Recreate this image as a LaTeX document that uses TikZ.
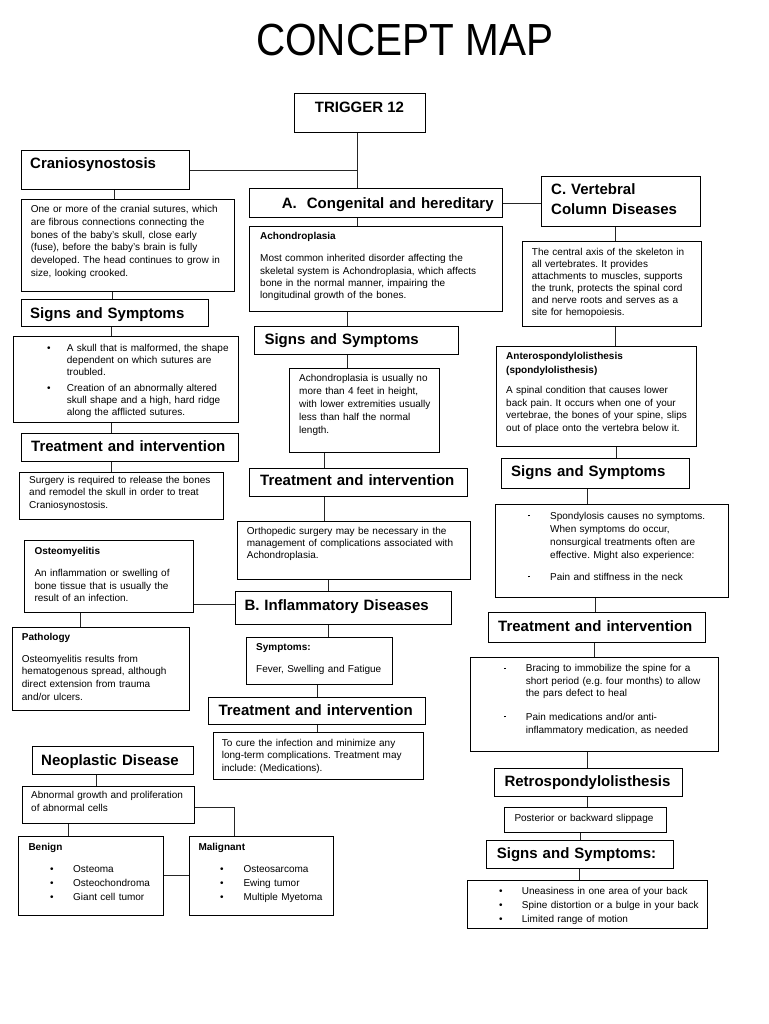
\documentclass[tikz,border=0pt]{standalone}
\usepackage{fontspec}
\usepackage{graphicx}
\setmainfont{Liberation Sans}
\frenchspacing
\newcommand\mybox[5]{\node[box, minimum width={(#4-#2)*1pt}, minimum height={(#5-#3)*1pt}] (#1) at (#2,#3) {};}
\tikzset{
  box/.style={draw=black, line width=0.9pt, inner sep=0pt, anchor=north west},
  conn/.style={draw=black!85, line width=0.8pt},
  hd/.style={anchor=base west, inner sep=0pt, text width=260pt, align=left, font=\bfseries\fontsize{15}{19.3}\selectfont},
  sb/.style={anchor=base west, inner sep=0pt, text width=220pt, align=left, font=\bfseries\fontsize{10}{14}\selectfont},
  tx/.style={anchor=base west, inner sep=0pt, text width=260pt, align=left, font=\fontsize{10}{12.5}\selectfont},
  bul/.style={anchor=base west, inner sep=0pt, font=\fontsize{10}{12.5}\selectfont},
}
\newcommand\sq{\rule[2.6pt]{1.6pt}{1.6pt}}
\begin{document}
\frenchspacing
\begin{tikzpicture}[x=1pt,y=-1pt]
\useasboundingbox (0,0) rectangle (768,1024);
\fill[white] (0,0) rectangle (768,1024);

% title
\node[anchor=base, inner sep=0pt] (title) at (404.7,56) {\fontsize{45}{50}\selectfont\scalebox{0.9}[1]{CONCEPT MAP}};

% boxes
\mybox{trig}{294}{93}{425}{132}
\mybox{cran}{21}{150}{189}{189}
\mybox{crand}{21}{199}{234}{291}
\mybox{css}{21}{299}{208}{326}
\mybox{cssd}{13}{336}{238}{422}
\mybox{ctr}{21}{433}{238}{461}
\mybox{ctrd}{19}{472}{223}{519}
\mybox{osteo}{24}{540}{193}{612}
\mybox{path}{12}{627}{189}{710}
\mybox{A}{249}{188}{502}{217}
\mybox{ach}{249}{226}{502}{311}
\mybox{ass}{254}{326}{458}{354}
\mybox{assd}{289}{368}{439}{452}
\mybox{atr}{249}{468}{467}{496}
\mybox{atrd}{237}{521}{470}{579}
\mybox{B}{235}{591}{451}{624}
\mybox{bsym}{246}{637}{392}{684}
\mybox{btr}{208}{697}{425}{724}
\mybox{btrd}{213}{732}{423}{779}
\mybox{neo}{32}{746}{193}{774}
\mybox{abn}{22}{786}{194}{823}
\mybox{ben}{18}{836}{163}{915}
\mybox{mal}{189}{836}{333}{915}
\mybox{C}{541}{176}{700}{226}
\mybox{cd}{522}{241}{701}{326}
\mybox{ant}{496}{346}{696}{446}
\mybox{rss}{501}{458}{689}{488}
\mybox{rssd}{495}{504}{728}{597}
\mybox{rtr}{488}{612}{705}{642}
\mybox{rtrd}{470}{657}{718}{751}
\mybox{retro}{494}{768}{682}{796}
\mybox{post}{504}{807}{666}{832}
\mybox{rsstwo}{486}{840}{673}{868}
\mybox{rlist}{467}{880}{707}{928}

% connectors
\coordinate (j) at (357,170);
\draw[conn] (j |- trig.south) -- (j |- A.north);
\draw[conn] (cran.east) -- (cran.east -| j);
\draw[conn] (A.east) -- (A.east -| C.west);
\draw[conn] (114,0 |- cran.south) -- (114,0 |- crand.north);
\draw[conn] (112,0 |- crand.south) -- (112,0 |- css.north);
\draw[conn] (111,0 |- css.south) -- (111,0 |- cssd.north);
\draw[conn] (111,0 |- cssd.south) -- (111,0 |- ctr.north);
\draw[conn] (111,0 |- ctr.south) -- (111,0 |- ctrd.north);
\draw[conn] (80,0 |- osteo.south) -- (80,0 |- path.north);
\draw[conn] (osteo.east |- 0,604) -- (B.west |- 0,604);
\draw[conn] (357,0 |- A.south) -- (357,0 |- ach.north);
\draw[conn] (347,0 |- ach.south) -- (347,0 |- ass.north);
\draw[conn] (347,0 |- ass.south) -- (347,0 |- assd.north);
\draw[conn] (324,0 |- assd.south) -- (324,0 |- atr.north);
\draw[conn] (324,0 |- atr.south) -- (324,0 |- atrd.north);
\draw[conn] (328,0 |- atrd.south) -- (328,0 |- B.north);
\draw[conn] (328,0 |- B.south) -- (328,0 |- bsym.north);
\draw[conn] (317,0 |- bsym.south) -- (317,0 |- btr.north);
\draw[conn] (317,0 |- btr.south) -- (317,0 |- btrd.north);
\draw[conn] (96,0 |- neo.south) -- (96,0 |- abn.north);
\draw[conn] (68,0 |- abn.south) -- (68,0 |- ben.north);
\draw[conn] (abn.east |- 0,807) -| (234,0 |- mal.north);
\draw[conn] (ben.east |- 0,875) -- (mal.west |- 0,875);
\draw[conn] (615,0 |- C.south) -- (615,0 |- cd.north);
\draw[conn] (615,0 |- cd.south) -- (615,0 |- ant.north);
\draw[conn] (616,0 |- ant.south) -- (616,0 |- rss.north);
\draw[conn] (587,0 |- rss.south) -- (587,0 |- rssd.north);
\draw[conn] (595,0 |- rssd.south) -- (595,0 |- rtr.north);
\draw[conn] (594,0 |- rtr.south) -- (594,0 |- rtrd.north);
\draw[conn] (587,0 |- rtrd.south) -- (587,0 |- retro.north);
\draw[conn] (587,0 |- retro.south) -- (587,0 |- post.north);
\draw[conn] (580,0 |- post.south) -- (580,0 |- rsstwo.north);
\draw[conn] (579,0 |- rsstwo.south) -- (579,0 |- rlist.north);

% headings
\node[anchor=base, inner sep=0pt, font=\bfseries\fontsize{15}{19.3}\selectfont] (ttrig) at (359.5,112.3) {TRIGGER 12};
\node[hd] (tcran) at (30,168.7) {Craniosynostosis};
\node[hd] (tA) at (281.7,208.3) {A.\ \ Congenital and hereditary};
\node[hd] (tC) at (551,195) {C. Vertebral\\Column Diseases};
\node[hd] (tcss) at (30,318) {Signs and Symptoms};
\node[hd] (tass) at (264.3,344) {Signs and Symptoms};
\node[hd] (tctr) at (31,451.7) {Treatment and intervention};
\node[hd] (tatr) at (260,485.7) {Treatment and intervention};
\node[hd] (trss) at (511,476.7) {Signs and Symptoms};
\node[hd] (trtr) at (498,631.7) {Treatment and intervention};
\node[hd] (tB) at (244.3,610) {B. Inflammatory Diseases};
\node[hd] (tbtr) at (218.3,715) {Treatment and intervention};
\node[hd] (tneo) at (41,765) {Neoplastic Disease};
\node[hd] (tretro) at (504.3,786.7) {Retrospondylolisthesis};
\node[hd] (trsstwo) at (496.7,858.3) {Signs and Symptoms:};

% small bold headings
\node[sb] (tach) at (260,240) {Achondroplasia};
\node[sb] (tant) at (506,359.3) {Anterospondylolisthesis\\(spondylolisthesis)};
\node[sb] (tosteo) at (34.3,554) {Osteomyelitis};
\node[sb] (tpath) at (21.7,640) {Pathology};
\node[sb] (tbsym) at (256,650) {Symptoms:};
\node[sb] (tben) at (28.3,850) {Benign};
\node[sb] (tmal) at (198.3,850) {Malignant};

% body texts
\node[tx, font=\fontsize{10}{12.85}\selectfont] (tcrand) at (30.7,212.3) {One or more of the cranial sutures, which\\are fibrous connections connecting the\\bones of the baby's skull, close early\\(fuse), before the baby's brain is fully\\developed. The head continues to grow in\\size, looking crooked.};
\node[tx, font=\fontsize{10}{12.3}\selectfont] (tachd) at (260,261.7) {Most common inherited disorder affecting the\\skeletal system is Achondroplasia, which affects\\bone in the normal manner, impairing the\\longitudinal growth of the bones.};
\node[tx, font=\fontsize{10}{12.1}\selectfont] (tcd) at (531.7,255.3) {The central axis of the skeleton in\\all vertebrates. It provides\\attachments to muscles, supports\\the trunk, protects the spinal cord\\and nerve roots and serves as a\\site for hemopoiesis.};
\node[tx, font=\fontsize{10}{12.8}\selectfont] (tantd) at (506,393.3) {A spinal condition that causes lower\\back pain. It occurs when one of your\\vertebrae, the bones of your spine, slips\\out of place onto the vertebra below it.};

\node[bul] (bc1) at (47,351) {•};
\node[tx, font=\fontsize{10}{12}\selectfont] (tc1) at (66.7,351) {A skull that is malformed, the shape\\dependent on which sutures are\\troubled.};
\node[bul] (bc2) at (47,391) {•};
\node[tx, font=\fontsize{10}{12}\selectfont] (tc2) at (66.7,391) {Creation of an abnormally altered\\skull shape and a high, hard ridge\\along the afflicted sutures.};

\node[tx] (tctrd) at (29,483) {Surgery is required to release the bones\\and remodel the skull in order to treat\\Craniosynostosis.};
\node[tx, font=\fontsize{10}{12.3}\selectfont] (tosteod) at (34.3,576.7) {An inflammation or swelling of\\bone tissue that is usually the\\result of an infection.};
\node[tx, font=\fontsize{10}{12.6}\selectfont] (tpathd) at (21.7,662.3) {Osteomyelitis results from\\hematogenous spread, although\\direct extension from trauma\\and/or ulcers.};
\node[tx, font=\fontsize{10}{12.9}\selectfont] (tassd) at (299,381.7) {Achondroplasia is usually no\\more than 4 feet in height,\\with lower extremities usually\\less than half the normal\\length.};
\node[tx, font=\fontsize{10}{12.2}\selectfont] (tatrd) at (246.7,534) {Orthopedic surgery may be necessary in the\\management of complications associated with\\Achondroplasia.};
\node[tx] (tbsymd) at (256,672.7) {Fever, Swelling and Fatigue};
\node[tx, font=\fontsize{10}{12.2}\selectfont] (tbtrd) at (221.7,746.7) {To cure the infection and minimize any\\long-term complications. Treatment may\\include: (Medications).};
\node[tx, font=\fontsize{10}{13.4}\selectfont] (tabn) at (31,798.3) {Abnormal growth and proliferation\\of abnormal cells};

\node[bul] (bb1) at (50,872) {•};
\node[bul] (bb2) at (50,886) {•};
\node[bul] (bb3) at (50,900) {•};
\node[tx] (tb1) at (73,872) {Osteoma};
\node[tx] (tb2) at (73,886) {Osteochondroma};
\node[tx] (tb3) at (73,900) {Giant cell tumor};
\node[bul] (bm1) at (220,872) {•};
\node[bul] (bm2) at (220,886) {•};
\node[bul] (bm3) at (220,900) {•};
\node[tx] (tm1) at (243.3,872) {Osteosarcoma};
\node[tx] (tm2) at (243.3,886) {Ewing tumor};
\node[tx] (tm3) at (243.3,900) {Multiple Myetoma};

\node[bul] (br1) at (528,519) {\sq};
\node[tx, font=\fontsize{10}{13}\selectfont] (tr1) at (550,519) {Spondylosis causes no symptoms.\\When symptoms do occur,\\nonsurgical treatments often are\\effective. Might also experience:};
\node[bul] (br2) at (528,580) {\sq};
\node[tx] (tr2) at (550,580) {Pain and stiffness in the neck};

\node[bul] (bt1) at (504,671.7) {\sq};
\node[tx] (tt1) at (525.7,671.7) {Bracing to immobilize the spine for a\\short period (e.g. four months) to allow\\the pars defect to heal};
\node[bul] (bt2) at (504,720) {\sq};
\node[tx, font=\fontsize{10}{13.3}\selectfont] (tt2) at (525.7,720) {Pain medications and/or anti-\\inflammatory medication, as needed};

\node[tx] (tpost) at (514.3,821) {Posterior or backward slippage};

\node[bul] (bl1) at (499,894.7) {•};
\node[bul] (bl2) at (499,908.5) {•};
\node[bul] (bl3) at (499,922.3) {•};
\node[tx] (tl1) at (521.7,894.7) {Uneasiness in one area of your back};
\node[tx] (tl2) at (521.7,908.5) {Spine distortion or a bulge in your back};
\node[tx] (tl3) at (521.7,922.3) {Limited range of motion};
\end{tikzpicture}
\end{document}
